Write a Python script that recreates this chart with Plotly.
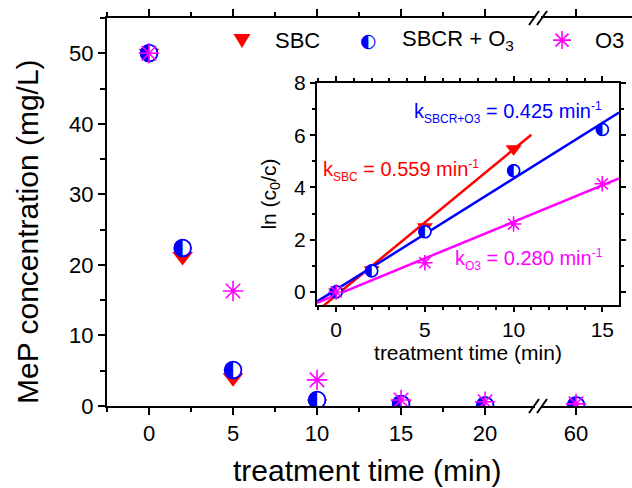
import plotly.graph_objects as go

# ---------------- data ----------------
time_min = [0, 2, 5, 10, 15, 20, 60]
conc_SBC = [50, 21.2, 4.0, 0.3, 0.15, None, None]
conc_SBCR_O3 = [50, 22.4, 5.1, 0.85, 0.3, 0.05, 0.05]
conc_O3 = [50, None, 16.3, 3.7, 0.85, 0.6, 0.3]

inset_time = [0, 2, 5, 10, 15]
ln_SBC = [0, 0.85, 2.5, 5.48, None]
ln_SBCR_O3 = [0, 0.8, 2.3, 4.64, 6.22]
ln_O3 = [0, None, 1.12, 2.6, 4.14]

fit_names = ["SBC", "SBCR+O3", "O3"]
fit_slope = [0.559, 0.425, 0.280]
fit_intercept = [-0.13, 0.09, -0.115]
fit_xmax = [11.0, 15.94, 15.94]

main_xticks = [0, 5, 10, 15, 20]
break_ticks = [60]
main_yticks = [0, 10, 20, 30, 40, 50]

RED = "#ff0000"
BLUE = "#0000ff"
MAG = "#ff00ff"
FONT = "Arial, Liberation Sans, sans-serif"
HALF = "\u25D0"

X1_RANGE = [-2.5, 23.15]
X3_RANGE = [57.74, 63.33]
D1 = 0.821

fig = go.Figure()


def split(xs, ys):
    a = [(x, y) for x, y in zip(xs, ys) if y is not None and x <= X1_RANGE[1]]
    b = [(x, y) for x, y in zip(xs, ys) if y is not None and x >= X3_RANGE[0]]
    return a, b


def add_tri(xs, ys, xa, ya, size):
    if not xs:
        return
    fig.add_trace(go.Scatter(x=xs, y=ys, xaxis=xa, yaxis=ya, mode="markers",
                             marker=dict(symbol="triangle-down", size=size, color=RED,
                                         line=dict(width=0)),
                             showlegend=False, hoverinfo="skip"))


def add_half(xs, ys, xa, ya, size, tsize):
    if not xs:
        return
    fig.add_trace(go.Scatter(x=xs, y=ys, xaxis=xa, yaxis=ya, mode="markers+text",
                             text=[HALF] * len(xs), textposition="middle center",
                             textfont=dict(family="DejaVu Sans", size=tsize, color=BLUE),
                             marker=dict(symbol="circle", size=size, color="white",
                                         line=dict(width=1.5, color=BLUE)),
                             showlegend=False, hoverinfo="skip"))


def add_star(xs, ys, xa, ya, size):
    if not xs:
        return
    fig.add_trace(go.Scatter(x=xs, y=ys, xaxis=xa, yaxis=ya, mode="markers",
                             marker=dict(symbol="asterisk", size=size, color=MAG,
                                         line=dict(width=1.6, color=MAG)),
                             showlegend=False, hoverinfo="skip"))


# main plot
for series, fn in [(conc_SBC, "tri"), (conc_SBCR_O3, "half"), (conc_O3, "star")]:
    a, b = split(time_min, series)
    for pts, xa in [(a, "x"), (b, "x3")]:
        xs = [p[0] for p in pts]
        ys = [p[1] for p in pts]
        if fn == "tri":
            add_tri(xs, ys, xa, "y", 18)
        elif fn == "half":
            add_half(xs, ys, xa, "y", 17, 23)
        else:
            add_star(xs, ys, xa, "y", 17)

# inset fit lines
for s, b0, xm, col in zip(fit_slope, fit_intercept, fit_xmax, [RED, BLUE, MAG]):
    xx = [-1.08, xm]
    yy = [b0 + s * v for v in xx]
    fig.add_trace(go.Scatter(x=xx, y=yy, xaxis="x2", yaxis="y2", mode="lines",
                             line=dict(color=col, width=2.5),
                             showlegend=False, hoverinfo="skip"))

# inset points
def clean(xs, ys):
    pts = [(x, y) for x, y in zip(xs, ys) if y is not None]
    return [p[0] for p in pts], [p[1] for p in pts]

xs, ys = clean(inset_time, ln_SBC)
add_tri(xs, ys, "x2", "y2", 14)
xs, ys = clean(inset_time, ln_SBCR_O3)
add_half(xs, ys, "x2", "y2", 12, 17)
xs, ys = clean(inset_time, ln_O3)
add_star(xs, ys, "x2", "y2", 13)

axis_common = dict(showline=True, linecolor="black", linewidth=2, showgrid=False,
                   zeroline=False, ticks="outside", tickcolor="black", tickwidth=2,
                   tickfont=dict(family=FONT, size=22, color="black"))

fig.update_layout(
    width=632, height=488,
    margin=dict(l=107, r=0, t=18, b=82),
    paper_bgcolor="white", plot_bgcolor="white",
    showlegend=False,
    xaxis=dict(**axis_common, domain=[0, D1], range=X1_RANGE, anchor="y",
               mirror="ticks", tickmode="array", tickvals=main_xticks, ticklen=7,
               minor=dict(tickmode="array", tickvals=[-2.5, 2.5, 7.5, 12.5, 17.5],
                          ticklen=4, tickwidth=2, ticks="outside", tickcolor="black")),
    xaxis3=dict(**axis_common, domain=[D1, 1], range=X3_RANGE, anchor="y",
                mirror="ticks", tickmode="array", tickvals=break_ticks, ticklen=7),
    yaxis=dict(**axis_common, domain=[0, 1], range=[0, 55], anchor="x",
               tickmode="array", tickvals=main_yticks, ticklen=7,
               minor=dict(dtick=5, ticklen=5, tickwidth=2, ticks="outside", tickcolor="black")),
    xaxis2=dict(showline=True, linecolor="black", linewidth=2, showgrid=False,
                zeroline=False, ticks="outside", tickcolor="black", tickwidth=2,
                tickfont=dict(family=FONT, size=21, color="black"),
                domain=[0.4, 0.9752], range=[-1.08, 15.94], anchor="y2", mirror="ticks",
                tickmode="array", tickvals=[0, 5, 10, 15], ticklen=5,
                minor=dict(dtick=1, tick0=0, ticklen=3, tickwidth=1.5, ticks="outside",
                           tickcolor="black"),
                title=dict(text="treatment time (min)", standoff=5,
                           font=dict(family=FONT, size=21, color="black"))),
    yaxis2=dict(showline=True, linecolor="black", linewidth=2, showgrid=False,
                zeroline=False, ticks="outside", tickcolor="black", tickwidth=2,
                tickfont=dict(family=FONT, size=21, color="black"),
                domain=[0.2603, 0.8325], range=[-0.5, 8], anchor="x2", mirror="ticks",
                tickmode="array", tickvals=[0, 2, 4, 6, 8], ticklen=5,
                minor=dict(dtick=1, tick0=0, ticklen=3, tickwidth=1.5, ticks="outside",
                           tickcolor="black"),
                title=dict(text="ln (c<sub>0</sub>/c)", standoff=12,
                           font=dict(family=FONT, size=21, color="black"))),
)

# main axis titles (centered on the whole broken axis)
fig.add_annotation(text="treatment time (min)", x=(367 - 107) / 525, y=(406 - 470) / 388,
                   xref="paper", yref="paper", xanchor="center", yanchor="middle",
                   borderpad=0, showarrow=False, font=dict(family=FONT, size=30, color="black"))
fig.add_annotation(text="MeP concentration (mg/L)", x=(27 - 107) / 525, y=(406 - 232) / 388,
                   xref="paper", yref="paper", xanchor="center", yanchor="middle",
                   textangle=-90, borderpad=0, showarrow=False,
                   font=dict(family=FONT, size=30, color="black"))

# k annotations
SUB = '<sub><span style="font-size:12px">{}</span></sub>'
SUP = '<sup><span style="font-size:12px">-1</span></sup>'
ann = [
    ("k" + SUB.format("SBCR+O3") + " = 0.425 min" + SUP, BLUE, 413, 112),
    ("k" + SUB.format("SBC") + " = 0.559 min" + SUP, RED, 322, 170),
    ("k" + SUB.format("O3") + " = 0.280 min" + SUP, MAG, 454, 259),
]
for t, c, x, y in ann:
    fig.add_annotation(text=t, x=(x - 107) / 525, y=(406 - y) / 388, xref="paper",
                       yref="paper", xanchor="left", yanchor="middle", showarrow=False,
                       borderpad=0, font=dict(family=FONT, size=20, color=c))

# legend (manual)
LY = 0.943
for t, x in [("SBC", 273), ("SBCR + O<sub>3</sub>", 400), ("O3", 593)]:
    fig.add_annotation(text=t, x=(x - 107) / 525, y=LY, xref="paper", yref="paper",
                       xanchor="left", yanchor="middle", showarrow=False,
                       font=dict(family=FONT, size=22, color="black"))
fig.add_shape(type="path", xref="paper", yref="paper", xsizemode="pixel", ysizemode="pixel",
              xanchor=(242 - 107) / 525, yanchor=LY, path="M-8.5,6 H8.5 L0,-8 Z",
              fillcolor=RED, line=dict(width=0))
fig.add_annotation(text=HALF, x=(368 - 107) / 525, y=LY, xref="paper", yref="paper",
                   xanchor="center", yanchor="middle", showarrow=False,
                   font=dict(family="DejaVu Sans", size=19, color=BLUE))
fig.add_shape(type="path", xref="paper", yref="paper", xsizemode="pixel", ysizemode="pixel",
              xanchor=(562 - 107) / 525, yanchor=LY,
              path="M0,-9 V9 M-9,0 H9 M-6.5,-6.5 L6.5,6.5 M-6.5,6.5 L6.5,-6.5",
              line=dict(color=MAG, width=1.6))

# axis-break marks
for yy in [0, 1]:
    fig.add_shape(type="rect", xref="paper", yref="paper", xsizemode="pixel", ysizemode="pixel",
                  xanchor=D1, yanchor=yy, x0=-3, x1=3, y0=-3, y1=3,
                  fillcolor="white", line=dict(width=0), layer="above")
    for dx in [-4, 4]:
        fig.add_shape(type="line", xref="paper", yref="paper", xsizemode="pixel",
                      ysizemode="pixel", xanchor=D1, yanchor=yy,
                      x0=dx - 5, x1=dx + 5, y0=-7, y1=7,
                      line=dict(color="black", width=2), layer="above")

fig.write_html("out.html")
